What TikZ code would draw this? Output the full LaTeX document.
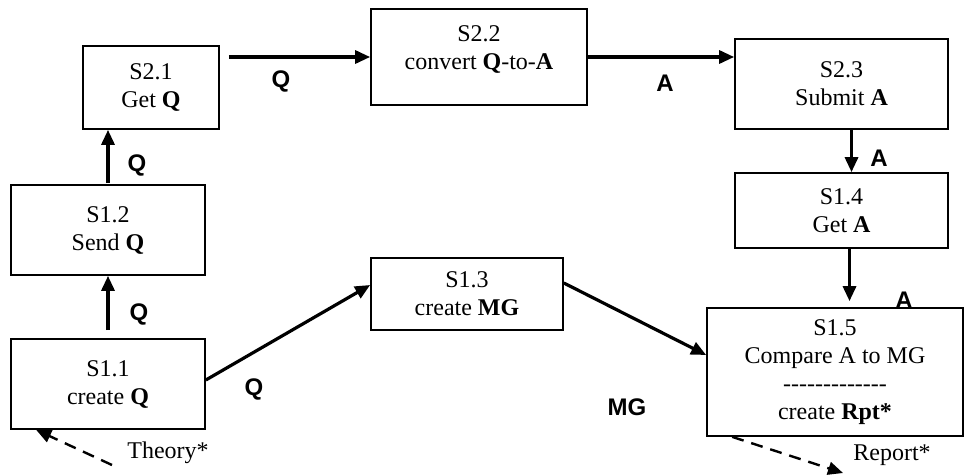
\documentclass[tikz,border=0pt]{standalone}
\usepackage{fontspec}
\setmainfont{Liberation Serif}
\newfontfamily\labelfont{Liberation Sans}
\usetikzlibrary{arrows.meta, positioning, calc}
\tikzstyle{stepbox} = [draw, line width=1.7pt, align=center, inner sep=0, font=\fontsize{24}{28}\selectfont]
\tikzstyle{flowlabel} = [inner sep=0, font=\labelfont\bfseries\fontsize{24}{28}\selectfont]
\tikzstyle{notelabel} = [inner sep=0, font=\fontsize{24}{28}\selectfont]
\tikzstyle{arrow} = [line width=3.2pt, -{Triangle[length=15pt,width=13pt]}]
\tikzstyle{dasharrow} = [line width=2.4pt, dash pattern=on 12pt off 8pt, -{Triangle[length=15pt,width=13pt]}]

\begin{document}
\begin{tikzpicture}[x=1pt, y=-1pt]
    \useasboundingbox (0,0) rectangle (965,474);

    % boxes
    \node[stepbox, minimum width=136pt, minimum height=83pt] (s21) at (151,87.5) {S2.1\\Get \textbf{Q}};
    \node[stepbox, minimum width=194pt, minimum height=90pt] (s12) at (108,230) {S1.2\\Send \textbf{Q}};
    \node[stepbox, minimum width=194pt, minimum height=90pt] (s11) at (108,384) {S1.1\\create \textbf{Q}};
    \node[stepbox, minimum width=216pt, minimum height=96pt, text depth=18pt] (s22) at (479,57) {S2.2\\convert \textbf{Q}-to-\textbf{A}};
    \node[stepbox, minimum width=213pt, minimum height=90pt] (s23) at (841.5,84) {S2.3\\Submit \textbf{A}};
    \node[stepbox, minimum width=213pt, minimum height=75pt] (s14) at (841.5,210.5) {S1.4\\Get \textbf{A}};
    \node[stepbox, minimum width=192pt, minimum height=72pt] (s13) at (467,294) {S1.3\\create \textbf{MG}};
    \node[stepbox, minimum width=256pt, minimum height=128pt] (s15) at (835,372) {S1.5\\Compare A to MG\\-{}-{}-{}-{}-{}-{}-{}-{}-{}-{}-{}-{}-\\create \textbf{Rpt*}};

    % flow labels
    \node[flowlabel] (lq1) at (281,81) {Q};
    \node[flowlabel] (la1) at (665,83) {A};
    \node[flowlabel] (lq2) at (137,165) {Q};
    \node[flowlabel] (lq3) at (139,314) {Q};
    \node[flowlabel] (la2) at (879,158) {A};
    \node[flowlabel] (la3) at (904,300) {A};
    \node[flowlabel] (lq4) at (254,389) {Q};
    \node[flowlabel] (lmg) at (627,407) {MG};
    \node[notelabel] (theorylbl) at (168,453) {Theory*};
    \node[notelabel] (reportlbl) at (892,455) {Report*};

    \coordinate (theory) at (112,465);
    \coordinate (report) at (843,473);

    % connectors
    \draw[arrow, shorten <=9pt] (s21.east |- s22.west) -- (s22.west);
    \draw[arrow] (s22.east) -- (s23.west |- s22.east);
    \draw[arrow, shorten <=1pt] (s12.north) -- (s12.north |- s21.south);
    \draw[arrow, shorten <=8pt] (s11.north) -- (s12.south);
    \draw[arrow] ([xshift=10pt]s23.south) -- ([xshift=10pt]s14.north);
    \draw[arrow, shorten >=6pt] ([xshift=8pt]s14.south) -- ([xshift=8pt]s14.south |- s15.north);
    \draw[arrow] ([yshift=4pt]s11.east) -- ([yshift=9pt]s13.west);
    \draw[arrow] ([yshift=11pt]s13.east) -- ([yshift=17pt]s15.west);
    \draw[dasharrow] (theory) -- ([xshift=26pt]s11.south west);
    \draw[dasharrow] ([xshift=26pt]s15.south west) -- (report);
\end{tikzpicture}
\end{document}
